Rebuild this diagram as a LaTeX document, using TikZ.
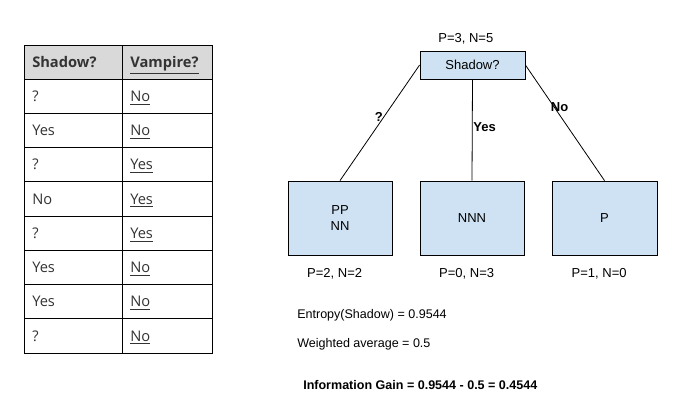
\documentclass[tikz,border=0pt]{standalone}
\usepackage{fontspec}
\setmainfont{Liberation Sans}
\newfontfamily\tablefont{Open Sans}
\usetikzlibrary{positioning}
\definecolor{boxblue}{HTML}{CFE2F3}
\definecolor{headgray}{HTML}{D9D9D9}
\definecolor{celltext}{HTML}{333333}
\tikzset{
  treebox/.style={draw, fill=boxblue, line width=0.6pt, align=center, font=\fontsize{9.75}{12}\selectfont},
  cell/.style={anchor=base west, inner sep=0pt, font=\tablefont\fontsize{11}{13}\selectfont, text=celltext},
  headcell/.style={cell, font=\tablefont\fontsize{11}{13}\selectfont\bfseries},
  count/.style={font=\fontsize{9.75}{12}\selectfont},
  branch/.style={font=\fontsize{9.75}{12}\selectfont\bfseries, inner sep=0.5pt},
  result/.style={anchor=west, inner sep=0pt, font=\fontsize{9.4}{12}\selectfont},
}
\begin{document}
\begin{tikzpicture}[x=0.75pt, y=-0.75pt]
      \useasboundingbox[fill=white] (0,0) rectangle (689,413);
      \fill[headgray] (24,46) rectangle (212,80);
      \draw[line width=0.75pt] (24,46) rectangle (212,353);
      \draw[line width=0.75pt] (122,46) -- (122,353);
      \draw[line width=0.75pt] (24,80) -- (212,80);
      \draw[line width=0.75pt] (24,114) -- (212,114);
      \draw[line width=0.75pt] (24,148) -- (212,148);
      \draw[line width=0.75pt] (24,182) -- (212,182);
      \draw[line width=0.75pt] (24,217) -- (212,217);
      \draw[line width=0.75pt] (24,251) -- (212,251);
      \draw[line width=0.75pt] (24,285) -- (212,285);
      \draw[line width=0.75pt] (24,319) -- (212,319);
      \node[headcell] (h1) at (32,68) {Shadow?};
      \node[headcell] (h2) at (130,68) {\underline{Vampire?}};
      \node[cell] (a1) at (32,102) {?};
      \node[cell] (b1) at (130,102) {\underline{No}};
      \node[cell] (a2) at (32,136) {Yes};
      \node[cell] (b2) at (130,136) {\underline{No}};
      \node[cell] (a3) at (32,170) {?};
      \node[cell] (b3) at (130,170) {\underline{Yes}};
      \node[cell] (a4) at (32,204.5) {No};
      \node[cell] (b4) at (130,204.5) {\underline{Yes}};
      \node[cell] (a5) at (32,239) {?};
      \node[cell] (b5) at (130,239) {\underline{Yes}};
      \node[cell] (a6) at (32,273) {Yes};
      \node[cell] (b6) at (130,273) {\underline{No}};
      \node[cell] (a7) at (32,307) {Yes};
      \node[cell] (b7) at (130,307) {\underline{No}};
      \node[cell] (a8) at (32,341) {?};
      \node[cell] (b8) at (130,341) {\underline{No}};
      \node[treebox, minimum width=78.75pt, minimum height=21pt] (shadow) at (472.5,65) {Shadow?};
      \node[treebox, minimum width=78pt, minimum height=55.5pt] (mixed) at (340,218) {PP\\NN};
      \node[treebox, minimum width=78pt, minimum height=55.5pt] (neg) at (472,218) {NNN};
      \node[treebox, minimum width=78.75pt, minimum height=55.5pt] (pos) at (604.5,218) {P};
      \node[count, above=1pt of shadow, xshift=-5pt] (shadowcount) {P=3, N=5};
      \node[count, below=6pt of mixed, xshift=-4pt] (mixedcount) {P=2, N=2};
      \node[count, below=6pt of neg, xshift=-4pt] (negcount) {P=0, N=3};
      \node[count, below=6pt of pos, xshift=-4pt] (poscount) {P=1, N=0};
      \draw[line width=0.6pt] (shadow.west) -- node[branch, pos=0.45, left]{?} (mixed.north);
      \draw[line width=0.6pt] (shadow.south) -- node[branch, pos=0.47, right]{Yes} (neg.north);
      \draw[line width=0.6pt] (shadow.east) -- node[branch, pos=0.36, right, xshift=-3pt]{No} (pos.north);
      \node[result] (entropy) at (297,315) {Entropy(Shadow) = 0.9544};
      \node[result] (average) at (297,344) {Weighted average = 0.5};
      \node[result, font=\fontsize{9.4}{12}\selectfont\bfseries] (gain) at (303,385) {Information Gain = 0.9544 - 0.5 = 0.4544};
    \end{tikzpicture}
\end{document}
